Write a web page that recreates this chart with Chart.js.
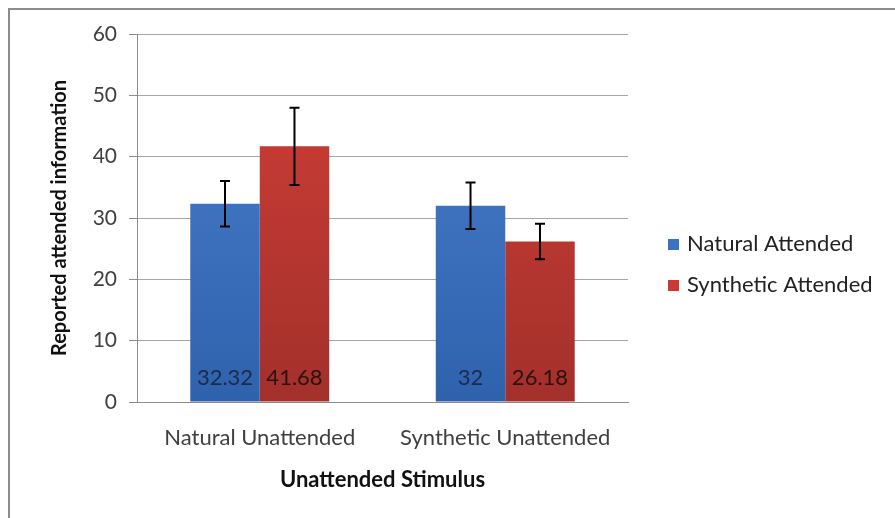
<!DOCTYPE html>
<html>
<head>
<meta charset="utf-8">
<script src="https://cdn.jsdelivr.net/npm/chart.js@4/dist/chart.umd.min.js"></script>
<style>
  html, body { margin: 0; padding: 0; background: #fff; }
  #wrap { width: 895px; height: 518px; position: relative; }
</style>
</head>
<body>
<div id="wrap"><canvas id="stimChart"></canvas></div>
<script>
const categories = ['Natural Unattended', 'Synthetic Unattended'];
const seriesNames = ['Natural Attended', 'Synthetic Attended'];
const naturalAttended = [32.32, 32];
const syntheticAttended = [41.68, 26.18];
const naturalErr = [3.7, 3.8];
const syntheticErr = [6.3, 2.9];
const yTicks = [0, 10, 20, 30, 40, 50, 60];

const FONT = 'Lato, "Open Sans", sans-serif';

function gradient(ctx, top, bottom) {
  const area = ctx.chart.chartArea;
  if (!area) return top;
  const g = ctx.chart.ctx.createLinearGradient(0, area.top, 0, area.bottom);
  g.addColorStop(0, top);
  g.addColorStop(1, bottom);
  return g;
}

// error bars, value labels at the bottom of bars, custom legend and frame
const extras = {
  id: 'extras',
  afterDatasetsDraw(chart) {
    const c = chart.ctx;
    const y = chart.scales.y;
    chart.data.datasets.forEach((ds, di) => {
      const meta = chart.getDatasetMeta(di);
      meta.data.forEach((bar, i) => {
        const v = ds.data[i];
        const e = ds.errors[i];
        const yTop = y.getPixelForValue(v + e);
        const yBot = y.getPixelForValue(v - e);
        c.save();
        c.strokeStyle = '#000';
        c.lineWidth = 2;
        c.beginPath();
        c.moveTo(bar.x, yTop); c.lineTo(bar.x, yBot);
        c.moveTo(bar.x - 5, yTop); c.lineTo(bar.x + 5, yTop);
        c.moveTo(bar.x - 5, yBot); c.lineTo(bar.x + 5, yBot);
        c.stroke();
        c.fillStyle = ds.labelColor;
        c.font = '22px ' + FONT;
        c.textAlign = 'center';
        c.textBaseline = 'middle';
        c.fillText(String(v), bar.x, y.getPixelForValue(0) - 24);
        c.restore();
      });
    });
  },
  afterDraw(chart) {
    const c = chart.ctx;
    c.save();
    // frame (top and left edges)
    c.strokeStyle = '#8c8c8c';
    c.lineWidth = 2;
    c.beginPath();
    c.moveTo(9, 518); c.lineTo(9, 9); c.lineTo(895, 9);
    c.stroke();
    // legend
    const x0 = 668;
    const rows = [244, 285];
    chart.data.datasets.forEach((ds, di) => {
      c.fillStyle = ds.legendColor;
      c.fillRect(x0, rows[di] - 5, 11, 11);
      c.fillStyle = '#222';
      c.font = '22px ' + FONT;
      c.textAlign = 'left';
      c.textBaseline = 'middle';
      c.fillText(ds.label, x0 + 19, rows[di]);
    });
    c.restore();
  }
};

new Chart(document.getElementById('stimChart'), {
  type: 'bar',
  data: {
    labels: categories,
    datasets: [{
      label: seriesNames[0],
      data: naturalAttended,
      errors: naturalErr,
      backgroundColor: ctx => gradient(ctx, '#4a80cf', '#2f62ad'),
      legendColor: '#3b72c2',
      labelColor: '#1b2a48',
    }, {
      label: seriesNames[1],
      data: syntheticAttended,
      errors: syntheticErr,
      backgroundColor: ctx => gradient(ctx, '#d23f37', '#a3302b'),
      legendColor: '#c83a33',
      labelColor: '#2a1212',
    }]
  },
  options: {
    responsive: true,
    maintainAspectRatio: false,
    animation: false,
    layout: { padding: { top: 34, right: 267, left: 0, bottom: 0 } },
    datasets: { bar: { categoryPercentage: 0.566, barPercentage: 1 } },
    scales: {
      x: {
        grid: { display: false, drawTicks: false },
        border: { color: '#8c8c8c' },
        ticks: { color: '#404040', font: { family: FONT, size: 22 }, padding: 23 },
        title: {
          display: true, text: 'Unattended Stimulus', color: '#111',
          font: { family: FONT, size: 22, weight: 'bold' }, padding: { top: 0, bottom: 25 }
        },
        afterFit(scale) { scale.height = 116; }
      },
      y: {
        min: 0, max: 60,
        afterBuildTicks(axis) { axis.ticks = yTicks.map(v => ({ value: v })); },
        grid: { color: '#a6a6a6', tickLength: 8, tickColor: '#8c8c8c' },
        border: { color: '#8c8c8c' },
        ticks: { color: '#404040', font: { family: FONT, size: 21 }, padding: 12 },
        title: {
          display: true, text: 'Reported attended information', color: '#111',
          font: { family: FONT, size: 20, weight: 'bold' }, padding: { top: 48, bottom: 0 }
        },
        afterFit(scale) { scale.width = 137; }
      }
    },
    plugins: {
      legend: { display: false },
      tooltip: { enabled: false }
    }
  },
  plugins: [extras]
});
</script>
</body>
</html>
